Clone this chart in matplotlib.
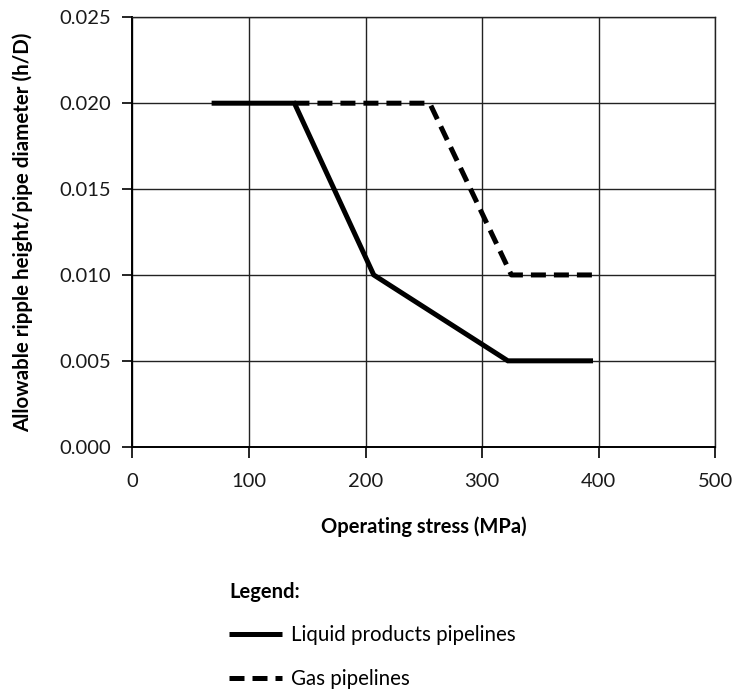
import matplotlib
matplotlib.use("Agg")
import matplotlib.pyplot as plt

plt.rcParams['font.family'] = ['Lato', 'DejaVu Sans']

# Operating stress (MPa) vs allowable ripple height / pipe diameter
liquid_stress = [68, 139, 207, 322, 395]
liquid_hd = [0.020, 0.020, 0.010, 0.005, 0.005]

gas_stress = [139, 255, 325, 397]
gas_hd = [0.020, 0.020, 0.010, 0.010]

x_ticks = [0, 100, 200, 300, 400, 500]
y_ticks = [0.000, 0.005, 0.010, 0.015, 0.020, 0.025]
y_tick_labels = ["0.000", "0.005", "0.010", "0.015", "0.020", "0.025"]

fig = plt.figure(figsize=(7.33, 6.90), dpi=100)
ax = fig.add_axes([0.1805, 0.3526, 0.9761 - 0.1805, 0.9749 - 0.3526])

liq_line, = ax.plot(liquid_stress, liquid_hd, color='black', lw=3.6,
                    solid_capstyle='butt', solid_joinstyle='miter', zorder=3,
                    label='Liquid products pipelines')
gas_line, = ax.plot(gas_stress, gas_hd, color='black', lw=3.6,
                    dashes=(3.0, 1.6), dash_capstyle='butt', zorder=3,
                    label='Gas pipelines')

ax.set_xlim(0, 500)
ax.set_ylim(0, 0.025)
ax.set_xticks(x_ticks)
ax.set_yticks(y_ticks)
ax.set_yticklabels(y_tick_labels)
ax.grid(True, color='#222222', lw=1.0)
ax.set_axisbelow(True)
for s in ax.spines.values():
    s.set_color('#222222')
    s.set_linewidth(1.0)
ax.spines['left'].set_color('black')
ax.spines['bottom'].set_color('black')
ax.spines['left'].set_linewidth(1.4)
ax.spines['bottom'].set_linewidth(1.4)

ax.tick_params(axis='y', direction='out', length=7, width=1.2, pad=8,
               labelsize=14.5, labelcolor='#1a1a1a')
ax.tick_params(axis='x', direction='out', length=8, width=1.2, pad=11,
               labelsize=14.5, labelcolor='#1a1a1a')

ax.set_xlabel('Operating stress (MPa)', fontsize=14.5, fontweight='bold',
              labelpad=19)
ax.set_ylabel('Allowable ripple height/pipe diameter (h/D)', fontsize=14.8,
              fontweight='bold', labelpad=19)

leg = fig.legend(handles=[liq_line, gas_line], loc='upper left',
                 bbox_to_anchor=(0.3124, 0.157), frameon=False,
                 title='Legend:', alignment='left', fontsize=14.8,
                 handlelength=2.6, handletextpad=0.4, labelspacing=1.15,
                 borderaxespad=0, borderpad=0)
leg.get_title().set_fontweight('bold')
leg.get_title().set_fontsize(14.5)

fig.savefig('out.png', dpi=100, facecolor='white')
